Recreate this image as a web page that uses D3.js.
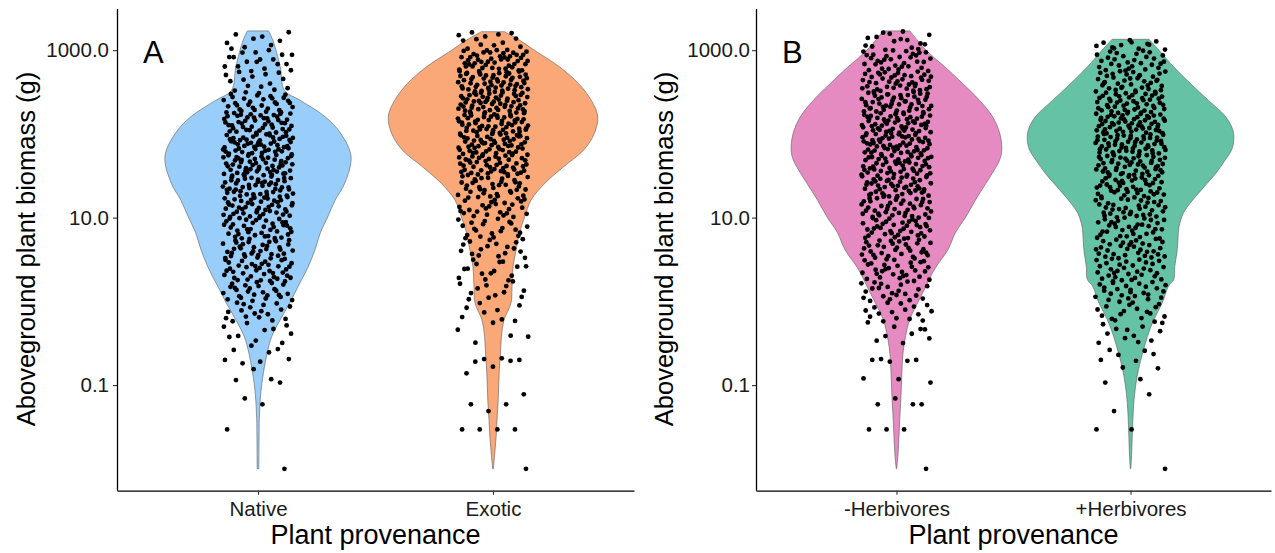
<!DOCTYPE html>
<html>
<head>
<meta charset="utf-8">
<script src="https://cdn.jsdelivr.net/npm/d3@7"></script>
<style>
	html, body{ margin:0; padding:0; background:#fff; }
	svg{ display:block; font-family:"Liberation Sans", Arial, sans-serif; }
</style>
</head>
<body>
<svg id="chart" width="1275" height="553"></svg>
<script>
// categories
var catsA = ['Native', 'Exotic'];
var catsB = ['-Herbivores', '+Herbivores'];
var yTicks = [0.1, 10, 1000];

// violin outlines: [log10 biomass, relative width]
var violinNative = [[-2.0,0.008],[-1.6,0.010],[-1.41,0.012],[-1.21,0.019],[-1.01,0.033],[-0.81,0.057],[-0.62,0.086],[-0.42,0.13],[-0.22,0.21],[-0.02,0.30],[0.18,0.38],[0.40,0.47],[0.62,0.54],[0.82,0.59],[1.01,0.66],[1.21,0.73],[1.41,0.82],[1.73,0.88],[2.01,0.78],[2.21,0.63],[2.40,0.40],[2.52,0.25],[2.80,0.21],[3.12,0.14],[3.23,0.10]];
var violinExotic = [[-2.0,0.003],[-1.81,0.017],[-1.61,0.03],[-1.41,0.038],[-1.21,0.048],[-1.01,0.054],[-0.81,0.06],[-0.62,0.071],[-0.42,0.08],[-0.22,0.105],[-0.02,0.17],[0.18,0.18],[0.42,0.19],[0.62,0.22],[0.82,0.25],[1.01,0.30],[1.21,0.36],[1.41,0.49],[1.61,0.67],[1.81,0.86],[2.01,0.96],[2.21,0.99],[2.40,0.93],[2.60,0.81],[2.80,0.63],[3.0,0.39],[3.12,0.25],[3.22,0.11]];
var violinMinusHerb = [[-2.0,0.002],[-1.81,0.016],[-1.61,0.024],[-1.41,0.031],[-1.21,0.040],[-1.01,0.047],[-0.81,0.053],[-0.62,0.062],[-0.42,0.086],[-0.22,0.125],[-0.02,0.20],[0.18,0.28],[0.38,0.36],[0.62,0.49],[0.82,0.56],[1.01,0.66],[1.21,0.75],[1.41,0.85],[1.53,0.91],[1.69,0.98],[1.81,1.0],[2.01,0.98],[2.21,0.91],[2.40,0.79],[2.60,0.63],[2.80,0.46],[3.0,0.28],[3.23,0.127]];
var violinPlusHerb = [[-2.0,0.002],[-1.81,0.011],[-1.61,0.016],[-1.41,0.022],[-1.21,0.031],[-1.01,0.048],[-0.81,0.076],[-0.62,0.114],[-0.42,0.16],[-0.22,0.22],[-0.02,0.30],[0.18,0.36],[0.26,0.41],[0.42,0.42],[0.58,0.44],[0.74,0.45],[0.89,0.46],[1.05,0.50],[1.21,0.59],[1.37,0.70],[1.53,0.81],[1.69,0.90],[1.81,0.96],[1.93,0.98],[2.05,0.97],[2.21,0.90],[2.40,0.74],[2.60,0.57],[2.80,0.41],[3.0,0.27],[3.13,0.175]];

// low single points (log10 biomass) read one by one
var tailNative = [-2.0,-1.53,-1.23,-1.16,-0.97,-0.94,-0.93,-0.81,-0.69,-0.70,-0.72,-0.74,-0.57,-0.58,-0.61,-0.53];
var tailExotic = [-2.0,-1.53,-1.53,-1.53,-1.53,-1.23,-1.23,-1.31,-1.11,-0.86,-0.68,-0.69,-0.70,-0.72,-0.71,-0.78];
var tailMinusHerb = [-2.0,-1.53,-1.53,-1.53,-1.23,-1.23,-1.23,-1.16,-0.97,-0.92,-0.93,-0.69,-0.70,-0.70,-0.71,-0.72];
var tailPlusHerb = [-2.0,-1.53,-1.53,-1.31,-1.11,-0.97,-0.93,-0.79,-0.80,-0.70,-0.71,-0.64,-0.63,-0.58,-0.59];

// point counts per log10 bin above -0.5
var binEdges = [-0.5,-0.25,0,0.25,0.5,0.75,1,1.25,1.5,1.75,2,2.25,2.5,2.75,3,3.25];
var countsNative    = [10,18,28,35,37,39,44,48,52,52,46,32,14,18,9];
var countsExotic    = [5,8,12,15,17,21,28,35,46,53,55,55,53,46,14];
var countsMinusHerb = [9,16,23,28,32,37,41,46,50,53,53,48,41,32,16];
var countsPlusHerb  = [12,18,25,30,32,32,35,41,48,53,53,46,37,28,12];

var svg = d3.select('#chart')
	, yTop = 9
	, yBottom = 490.7
	, profiles = [violinNative, violinExotic, violinMinusHerb, violinPlusHerb]
	, vMin = d3.min(profiles, function(p){ return p[0][0]; })
	, vMax = d3.max(profiles, function(p){ return p[p.length-1][0]; })
	, pad = (vMax - vMin) * 0.05
	, y = d3.scaleLog().domain([Math.pow(10, vMin - pad), Math.pow(10, vMax + pad)]).range([yBottom, yTop])
	;

function halton(i, b){
	var f = 1, r = 0;
	while( i > 0 ){ f /= b; r += f * (i % b); i = Math.floor(i / b); }
	return r;
}

var panels = [
	{ left:117, right:634, cats:catsA, violins:[violinNative, violinExotic], tails:[tailNative, tailExotic],
		counts:[countsNative, countsExotic], fills:['#99CEFA', '#FBA878'], tag:'A', tagX:143, titleX:35, tickPad:4 },
	{ left:756, right:1271, cats:catsB, violins:[violinMinusHerb, violinPlusHerb], tails:[tailMinusHerb, tailPlusHerb],
		counts:[countsMinusHerb, countsPlusHerb], fills:['#E68AC2', '#66C2A5'], tag:'B', tagX:782, titleX:673, tickPad:2 }
];

panels.forEach(function(p, pi){
	var x = d3.scalePoint().domain(p.cats).range([p.left, p.right]).padding(0.6)
		, step = x.step()
		, g = svg.append('g')
		;

	p.cats.forEach(function(cat, ci){
		var cx = x(cat)
			, prof = p.violins[ci]
			, lo = prof[0][0]
			, hi = prof[prof.length-1][0]
			, area = d3.area().curve(d3.curveCatmullRom.alpha(0.5))
				.y(function(d){ return y(Math.pow(10, d[0])); })
				.x0(function(d){ return cx - d[1] * 0.45 * step; })
				.x1(function(d){ return cx + d[1] * 0.45 * step; })
			, pts = []
			, k = 7 + pi * 2000 + ci * 1000
			;

		g.append('path').datum(prof).attr('d', area)
			.attr('fill', p.fills[ci]).attr('stroke', '#5a5a5a').attr('stroke-width', 0.6);

		// jittered points
		p.tails[ci].forEach(function(v){
			pts.push([v, halton(k, 2)]); k++;
		});
		p.counts[ci].forEach(function(n, bi){
			var a = Math.max(binEdges[bi], lo), b = Math.min(binEdges[bi+1], hi), j;
			for( j = 0; j < n; j++ ){
				pts.push([a + halton(k, 3) * (b - a), halton(k, 2)]); k++;
			}
		});

		g.selectAll(null).data(pts).enter().append('circle')
			.attr('cx', function(d){ return cx + (d[1] * 2 - 1) * 0.15 * step; })
			.attr('cy', function(d){ return y(Math.pow(10, d[0])); })
			.attr('r', 2.4).attr('fill', '#000');
	});

	// axes
	var ya = g.append('g').attr('transform', 'translate(' + p.left + ',0)')
		.call(d3.axisLeft(y).tickValues(yTicks).tickFormat(d3.format('.1f')).tickSize(4).tickSizeOuter(0).tickPadding(p.tickPad));
	var xa = g.append('g').attr('transform', 'translate(0,' + yBottom + ')')
		.call(d3.axisBottom(x).tickSize(4).tickSizeOuter(0).tickPadding(6.5));

	[ya, xa].forEach(function(a){
		a.select('.domain').attr('stroke', '#000').attr('stroke-width', 1.3);
		a.selectAll('.tick line').attr('stroke', '#333').attr('stroke-width', 1.1);
		a.selectAll('.tick text').attr('fill', '#1a1a1a').style('font-size', '20.5px')
			.style('font-family', '"Liberation Sans", Arial, sans-serif');
	});
	// y domain must reach the top of the panel
	ya.select('.domain').attr('d', 'M0.5,' + yBottom + 'V' + yTop);

	g.append('text').attr('x', (p.left + p.right) / 2).attr('y', 544).attr('text-anchor', 'middle')
		.style('font-size', '27px').attr('fill', '#000').text('Plant provenance');
	g.append('text').attr('transform', 'translate(' + p.titleX + ',249) rotate(-90)').attr('text-anchor', 'middle')
		.style('font-size', '25.5px').attr('fill', '#000').text('Aboveground plant biomass (g)');
	g.append('text').attr('x', p.tagX).attr('y', 63).style('font-size', '31px').attr('fill', '#000').text(p.tag);
});
</script>
</body>
</html>
